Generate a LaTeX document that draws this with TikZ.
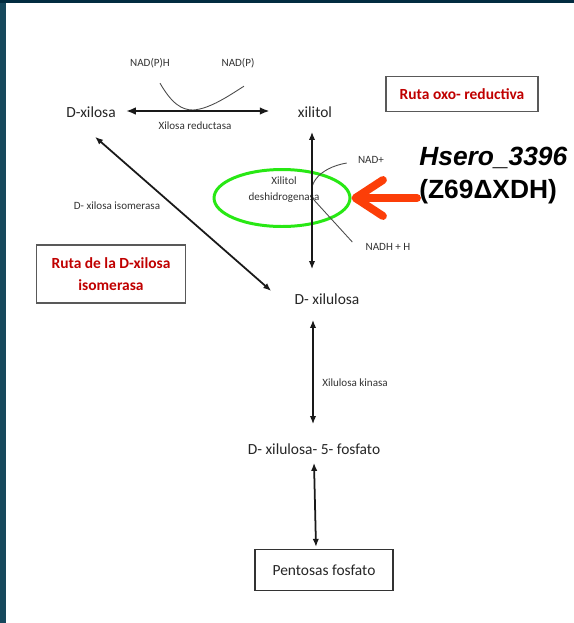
\documentclass[tikz,border=0pt]{standalone}
\usepackage{fontspec}
\setmainfont{Carlito}
\newfontfamily\arialfont{Liberation Sans}
\usetikzlibrary{arrows.meta, positioning, shapes.geometric, calc}
\definecolor{slideblue}{RGB}{22,72,92}
\definecolor{slidetop}{RGB}{2,44,64}
\definecolor{rutared}{RGB}{192,0,0}
\definecolor{xdhgreen}{RGB}{40,232,20}
\definecolor{pointred}{RGB}{252,62,8}
\newcommand{\mainsize}{\fontsize{8.8}{10.5}\selectfont}
\newcommand{\enzsize}{\fontsize{6.3}{9}\selectfont}

\begin{document}
\begin{tikzpicture}[x=0.02cm, y=-0.02cm,
    metab/.style={inner sep=0pt, text=black!85, font=\mainsize},
    enz/.style={inner sep=0pt, text=black!80, font=\enzsize},
    rutabox/.style={draw=black!65, line width=0.6pt, text=rutared, font=\mainsize\bfseries, align=center},
    rev/.style={{Latex[length=4.6pt,width=3.6pt]}-{Latex[length=4.6pt,width=3.6pt]}, line width=1pt, black!90},
    cofactor/.style={black!70, line width=0.5pt}]
    \useasboundingbox (0,0) rectangle (574,623);
    \fill[white] (0,0) rectangle (574,623);
    \fill[slideblue] (0,0) rectangle (6,623);
    \fill[slidetop] (0,0) rectangle (574,3);

    % metabolites
    \node[metab] (dxilosa) at (91,112) {D-xilosa};
    \node[metab] (xilitol) at (315,112) {xilitol};
    \node[metab] (xilulosa) at (327,299) {D- xilulosa};
    \node[metab] (x5p) at (314,449) {D- xilulosa- 5- fosfato};
    \node[draw=black!80, line width=0.6pt, text=black!85, font=\mainsize,
          minimum width=2.76cm, minimum height=0.82cm] (pentosas) at (324,570) {Pentosas fosfato};

    % pathway boxes
    \node[rutabox, minimum width=3.04cm, minimum height=0.7cm] (oxo) at (462,94) {Ruta oxo- reductiva};
    \node[rutabox, minimum width=2.98cm, minimum height=1.16cm] (isom) at (111,274)
        {Ruta de la D-xilosa\\[2pt]isomerasa};

    % enzymes and cofactors
    \node[enz] (nadph) at (150,63) {NAD(P)H};
    \node[enz] (nadp) at (238,63) {NAD(P)};
    \node[enz] (xr) at (195,126) {Xilosa reductasa};
    \node[enz] (xi) at (117,206) {D- xilosa isomerasa};
    \node[enz] (xk) at (355,383) {Xilulosa kinasa};
    \node[enz] (nadplus) at (371,160) {NAD+};
    \node[enz] (nadh) at (388,247) {NADH + H};

    \node[draw=xdhgreen, line width=1.7pt, ellipse, minimum width=2.72cm, minimum height=1.14cm] (xdh) at (282,198) {};
    \node[enz, align=center] (xdhtxt) at (284,190) {Xilitol\\deshidrogenasa};

    \node[anchor=west, inner sep=0pt, font=\arialfont\fontsize{15}{17}\selectfont\bfseries\itshape] (hsero) at (419,158) {Hsero\_3396};
    \node[anchor=west, inner sep=0pt, font=\arialfont\fontsize{15}{17}\selectfont\bfseries] (gene) at (419,192) {(Z69ΔXDH)};

    % reactions
    \draw[cofactor] ($(nadph.south)+(10,15)$) .. controls (172,104) and (182,110) .. (193,110)
        .. controls (210,109) and (230,95) .. ($(nadp.south)+(6,18)$);
    \draw[rev, {Latex[length=5.6pt,width=4.4pt]}-{Latex[length=5.6pt,width=4.4pt]}, line width=1.4pt]
        ($(dxilosa.east)+(10,-1)$) -- ($(xilitol.west)+(-28,-1)$);
    \draw[cofactor] ($(nadplus.west)+(-11,3)$) .. controls (318,168) and (306,186) .. (314,200)
        -- ($(nadh.west)+(-13,-5)$);
    \draw[rev] ($(xilitol.south)+(-3,14)$) -- ($(xilulosa.north)+(-15,-24)$);
    \draw[rev] ($(dxilosa.south)+(4,19)$) -- ($(xilulosa.west)+(-23,-8)$);
    \draw[rev] ($(xilulosa.south)+(-14,15)$) -- ($(x5p.north)+(-1,-19)$);
    \draw[rev] ($(x5p.south)+(0,8)$) -- ($(pentosas.north)+(-8,-2)$);

    \draw[pointred, line width=4.5pt, line cap=round,
          -{Straight Barb[round, length=0.55cm, width=0.72cm]}] ($(gene.west)+(-2,6)$) -- (xdh.east);
\end{tikzpicture}
\end{document}
